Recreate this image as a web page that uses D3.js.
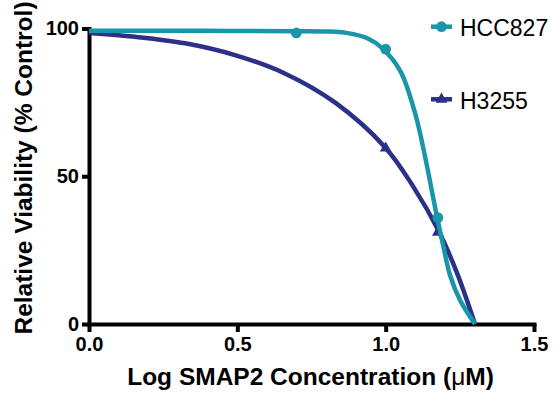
<!DOCTYPE html>
<html>
<head>
<meta charset="utf-8">
<script src="https://cdn.jsdelivr.net/npm/d3@7"></script>
<style>
    body { margin: 0; background: #fff; }
    svg { display: block; font-family: 'Liberation Sans', Arial, Helvetica, sans-serif; }
    .axes path, .axes line { stroke: #000; stroke-width: 4; }
    .axes text { font-size: 20px; font-weight: bold; fill: #000; }
    .label { font-size: 24.5px; font-weight: bold; fill: #000; }
    .legend text { font-size: 23px; fill: #000; }
    .line { fill: none; stroke-width: 4.5; }
</style>
</head>
<body>
<script>
const margin = { top: 28.5, right: 22, bottom: 78, left: 89 },
    W = 556, H = 402,
    width = W - margin.left - margin.right,
    height = H - margin.top - margin.bottom;

// tick labels
const xTicks = [0, 0.5, 1.0, 1.5];
const yTicks = [0, 50, 100];

// measured points (log concentration, % control)
const hccX = [0.699, 1.0, 1.176];
const hccY = [98.5, 93, 36];
const h3255X = [1.0, 1.176];
const h3255Y = [59.5, 31];

// fitted curves
const hccFitX = [0, 0.4, 0.7, 0.8, 0.863, 0.94, 0.99, 1.05, 1.1, 1.13, 1.173, 1.193, 1.217, 1.251, 1.301];
const hccFitY = [99.2, 99.2, 99.1, 99.0, 98.6, 96.6, 93.2, 85.5, 71, 58, 36.3, 27, 16.5, 8, 0];
const h3255FitX = [0, 0.155, 0.324, 0.492, 0.66, 0.83, 1.0, 1.093, 1.177, 1.24, 1.301];
const h3255FitY = [98.5, 97.2, 95, 91, 84.8, 74.9, 59.6, 46.5, 31.8, 17.4, 0];

const series = [
    { name: 'H3255', color: '#2b3088', symbol: d3.symbolTriangle, size: 60,
      fit: h3255FitX.map((x, i) => ({ x: x, y: h3255FitY[i] })),
      pts: h3255X.map((x, i) => ({ x: x, y: h3255Y[i] })) },
    { name: 'HCC827', color: '#1a96aa', symbol: d3.symbolCircle, size: 90,
      fit: hccFitX.map((x, i) => ({ x: x, y: hccFitY[i] })),
      pts: hccX.map((x, i) => ({ x: x, y: hccY[i] })) }
];

const xScale = d3.scaleLinear().domain([0, 1.5]).range([0, width]);
const yScale = d3.scaleLinear().domain([0, 100]).range([height, 0]);

const line = d3.line()
    .x(d => { return xScale(d.x); })
    .y(d => { return yScale(d.y); })
    .curve(d3.curveCatmullRom.alpha(0.5));

const svg = d3.select('body').append('svg')
    .attr('width', W)
    .attr('height', H)
    .append('g')
    .attr('transform', 'translate(' + margin.left + ',' + margin.top + ')');

// axes
svg.append('g')
    .attr('class', 'axes')
    .attr('transform', 'translate(0,' + height + ')')
    .call(d3.axisBottom(xScale).tickValues(xTicks).tickFormat(d3.format('.1f')).tickSize(8).tickSizeOuter(0).tickPadding(5));
svg.append('g')
    .attr('class', 'axes')
    .call(d3.axisLeft(yScale).tickValues(yTicks).tickFormat(d3.format('d')).tickSize(7).tickSizeOuter(0).tickPadding(3));
svg.selectAll('.axes .tick line').attr('stroke-width', 3);
svg.selectAll('.axes .domain').attr('stroke-linecap', 'square');

// labels
const xl = svg.append('text')
    .attr('class', 'label')
    .attr('x', (xScale(0) + xScale(1.5)) / 2 - 1)
    .attr('y', height + 61)
    .style('text-anchor', 'middle')
    .text('Log SMAP2 Concentration (');
xl.append('tspan').style('font-weight', 'normal').text('\u03bc');
xl.append('tspan').text('M)');
svg.append('text')
    .attr('class', 'label')
    .attr('transform', 'translate(' + (32 - margin.left) + ',' + (168 - margin.top) + ') rotate(-90)')
    .style('text-anchor', 'middle')
    .text('Relative Viability (% Control)');

// curves and points
const grp = svg.selectAll('.location')
    .data(series)
    .enter().append('g')
    .attr('class', 'location');
grp.append('path')
    .attr('class', 'line')
    .attr('d', d => { return line(d.fit); })
    .style('stroke', d => { return d.color; });
grp.each(function (s) {
    d3.select(this).selectAll('.dot')
        .data(s.pts)
        .enter().append('path')
        .attr('class', 'dot')
        .attr('transform', d => { return 'translate(' + xScale(d.x) + ',' + yScale(d.y) + ')'; })
        .attr('d', d3.symbol().type(s.symbol).size(s.size))
        .style('fill', s.color);
});

// legend
const legendY = [26.7 - margin.top, 99.3 - margin.top];
const legend = svg.append('g')
    .attr('class', 'legend')
    .attr('transform', 'translate(' + (431 - margin.left) + ',0)');
const items = legend.selectAll('.item')
    .data([series[1], series[0]])
    .enter().append('g')
    .attr('class', 'item')
    .attr('transform', (d, i) => { return 'translate(0,' + legendY[i] + ')'; });
items.append('line')
    .attr('x1', 0).attr('x2', 21)
    .attr('stroke-width', 4.5)
    .style('stroke', d => { return d.color; });
items.append('path')
    .attr('transform', 'translate(10.5,0)')
    .attr('d', d => { return d3.symbol().type(d.symbol).size(d.size)(); })
    .style('fill', d => { return d.color; });
items.append('text')
    .attr('x', 29)
    .attr('y', 9.5)
    .text(d => { return d.name; });
</script>
</body>
</html>
